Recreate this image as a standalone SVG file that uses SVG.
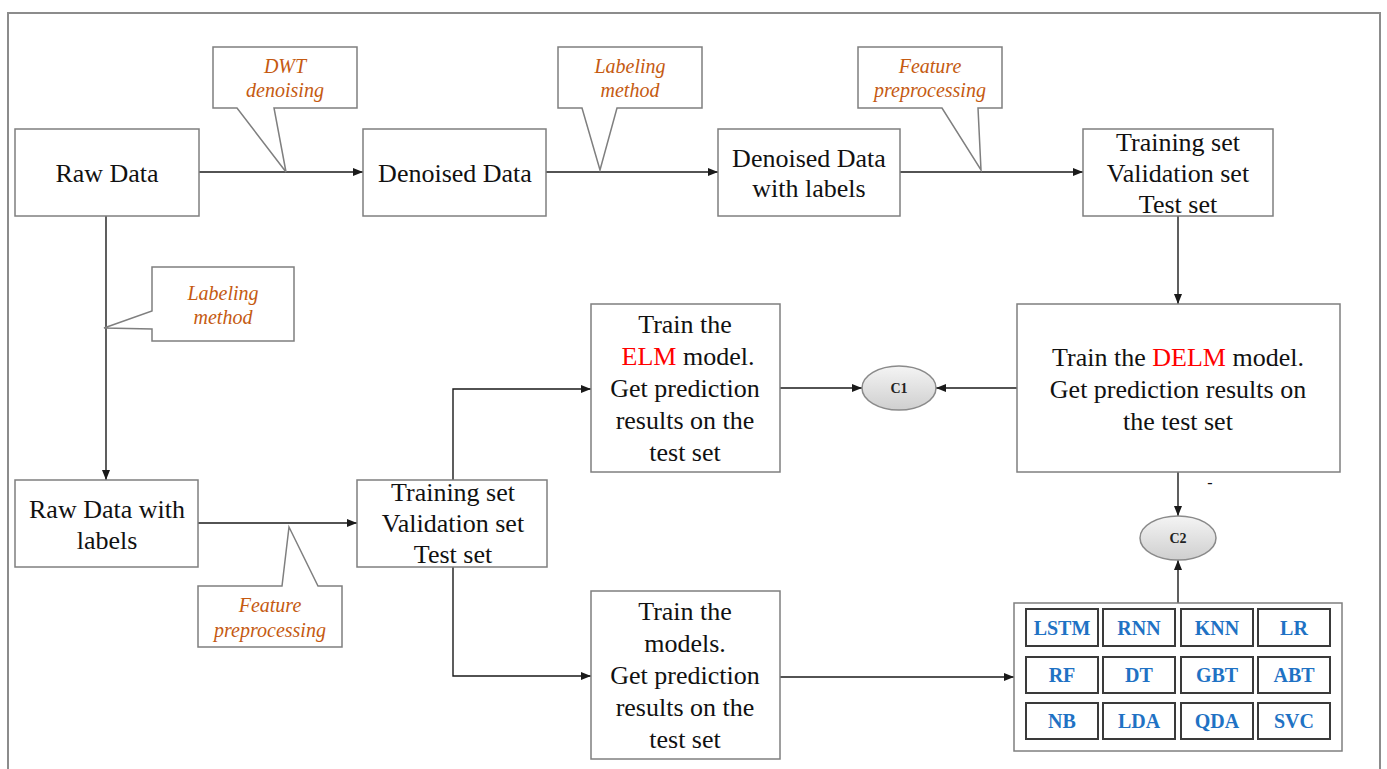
<svg xmlns="http://www.w3.org/2000/svg" width="1387" height="769" viewBox="0 0 1387 769">
  <style>
    .box { fill: #ffffff; stroke: #7f7f7f; stroke-width: 1.5; }
    .call { fill: #ffffff; stroke: #7f7f7f; stroke-width: 1.5; stroke-linejoin: miter; }
    .cell { fill: #ffffff; stroke: #3a3a3a; stroke-width: 2; }
    .conn { fill: none; stroke: #1a1a1a; stroke-width: 1.4; }
    .t { font-family: "Liberation Serif", "Times New Roman", serif; font-size: 26px; fill: #111111; text-anchor: middle; }
    .ct { font-family: "Liberation Serif", "Times New Roman", serif; font-size: 20px; font-style: italic; fill: #c55a11; text-anchor: middle; }
    .mt { font-family: "Liberation Serif", "Times New Roman", serif; font-size: 20px; font-weight: bold; fill: #1f72c4; text-anchor: middle; }
    .et { font-family: "Liberation Serif", "Times New Roman", serif; font-size: 14px; font-weight: bold; fill: #222222; text-anchor: middle; }
    .red { fill: #ff0000; }
  </style>
  <defs>
    <marker id="arrow" viewBox="0 0 10 8" markerWidth="10" markerHeight="8" refX="10" refY="4" orient="auto" markerUnits="userSpaceOnUse">
      <path d="M0,0 L10,4 L0,8 Z" fill="#1a1a1a"/>
    </marker>
    <linearGradient id="oval" x1="0" y1="0" x2="0" y2="1">
      <stop offset="0" stop-color="#f4f4f4"/>
      <stop offset="1" stop-color="#cfcfcf"/>
    </linearGradient>
  </defs>

  <!-- outer frame -->
  <rect x="8" y="13" width="1372" height="770" fill="#ffffff" stroke="#8c8c8c" stroke-width="2"/>

  <!-- connectors -->
  <g id="connectors">
    <line class="conn" x1="199" y1="172" x2="363" y2="172" marker-end="url(#arrow)"/>
    <line class="conn" x1="546" y1="172" x2="718" y2="172" marker-end="url(#arrow)"/>
    <line class="conn" x1="900" y1="172" x2="1083" y2="172" marker-end="url(#arrow)"/>
    <line class="conn" x1="1178" y1="216" x2="1178" y2="304" marker-end="url(#arrow)"/>
    <line class="conn" x1="106" y1="216" x2="106" y2="480" marker-end="url(#arrow)"/>
    <line class="conn" x1="198" y1="523" x2="357" y2="523" marker-end="url(#arrow)"/>
    <polyline class="conn" points="453,480 453,389 591,389" marker-end="url(#arrow)"/>
    <polyline class="conn" points="453,567 453,676 591,676" marker-end="url(#arrow)"/>
    <line class="conn" x1="780" y1="388" x2="862" y2="388" marker-end="url(#arrow)"/>
    <line class="conn" x1="1017" y1="388" x2="936" y2="388" marker-end="url(#arrow)"/>
    <line class="conn" x1="1178" y1="472" x2="1178" y2="516" marker-end="url(#arrow)"/>
    <line class="conn" x1="1178" y1="603" x2="1178" y2="560" marker-end="url(#arrow)"/>
    <line class="conn" x1="780" y1="677" x2="1014" y2="677" marker-end="url(#arrow)"/>
  </g>

  <!-- callouts -->
  <g id="callout-dwt">
    <path class="call" d="M213,47 H357 V108 H274 L286,172 L237,108 H213 Z"/>
    <text class="ct" x="285" y="73">DWT</text>
    <text class="ct" x="285" y="97">denoising</text>
  </g>
  <g id="callout-labeling-top">
    <path class="call" d="M558,47 H702 V108 H617 L600,170 L582,108 H558 Z"/>
    <text class="ct" x="630" y="73">Labeling</text>
    <text class="ct" x="630" y="97">method</text>
  </g>
  <g id="callout-feature-top">
    <path class="call" d="M858,47 H1002 V108 H978 L981,170 L942,108 H858 Z"/>
    <text class="ct" x="930" y="73">Feature</text>
    <text class="ct" x="930" y="97">preprocessing</text>
  </g>
  <g id="callout-labeling-left">
    <path class="call" d="M152,267 H294 V341 H152 V329 L104,328 L152,311 Z"/>
    <text class="ct" x="223" y="300">Labeling</text>
    <text class="ct" x="223" y="324">method</text>
  </g>
  <g id="callout-feature-bottom">
    <path class="call" d="M198,586 H282 L289,527 L318,586 H342 V647 H198 Z"/>
    <text class="ct" x="270" y="612">Feature</text>
    <text class="ct" x="270" y="637">preprocessing</text>
  </g>

  <!-- top row -->
  <g id="raw-data">
    <rect class="box" x="15" y="129" width="184" height="87"/>
    <text class="t" x="107" y="182">Raw Data</text>
  </g>
  <g id="denoised-data">
    <rect class="box" x="363" y="129" width="183" height="87"/>
    <text class="t" x="455" y="182">Denoised Data</text>
  </g>
  <g id="denoised-labels">
    <rect class="box" x="718" y="129" width="182" height="87"/>
    <text class="t" x="809" y="167">Denoised Data</text>
    <text class="t" x="809" y="197">with labels</text>
  </g>
  <g id="split-top">
    <rect class="box" x="1083" y="129" width="190" height="87"/>
    <text class="t" x="1178" y="151">Training set</text>
    <text class="t" x="1178" y="182">Validation set</text>
    <text class="t" x="1178" y="213">Test set</text>
  </g>

  <!-- DELM -->
  <g id="delm">
    <rect class="box" x="1017" y="304" width="323" height="168"/>
    <text class="t" x="1178" y="366">Train the <tspan class="red">DELM</tspan> model.</text>
    <text class="t" x="1178" y="398">Get prediction results on</text>
    <text class="t" x="1178" y="430">the test set</text>
    <text class="t" x="1210" y="488" style="font-size:16px">-</text>
  </g>

  <!-- comparison nodes -->
  <g id="c1">
    <ellipse cx="899" cy="388" rx="37" ry="22" fill="url(#oval)" stroke="#8a8a8a" stroke-width="1.5"/>
    <text class="et" x="899" y="393">C1</text>
  </g>
  <g id="c2">
    <ellipse cx="1178" cy="538" rx="38" ry="22" fill="url(#oval)" stroke="#8a8a8a" stroke-width="1.5"/>
    <text class="et" x="1178" y="543">C2</text>
  </g>

  <!-- ELM -->
  <g id="elm">
    <rect class="box" x="591" y="304" width="189" height="168"/>
    <text class="t" x="685" y="333">Train the</text>
    <text class="t" x="688" y="365"><tspan class="red">ELM</tspan> model.</text>
    <text class="t" x="685" y="397">Get prediction</text>
    <text class="t" x="685" y="429">results on the</text>
    <text class="t" x="685" y="461">test set</text>
  </g>

  <!-- left column -->
  <g id="raw-labels">
    <rect class="box" x="15" y="480" width="183" height="87"/>
    <text class="t" x="107" y="518">Raw Data with</text>
    <text class="t" x="107" y="549">labels</text>
  </g>
  <g id="split-bottom">
    <rect class="box" x="357" y="480" width="190" height="87"/>
    <text class="t" x="453" y="501">Training set</text>
    <text class="t" x="453" y="532">Validation set</text>
    <text class="t" x="453" y="563">Test set</text>
  </g>

  <!-- other models -->
  <g id="models">
    <rect class="box" x="591" y="591" width="189" height="168"/>
    <text class="t" x="685" y="620">Train the</text>
    <text class="t" x="685" y="652">models.</text>
    <text class="t" x="685" y="684">Get prediction</text>
    <text class="t" x="685" y="716">results on the</text>
    <text class="t" x="685" y="748">test set</text>
  </g>

  <g id="model-grid">
    <rect class="box" x="1014" y="603" width="328" height="148"/>
    <rect class="cell" x="1026" y="609" width="72" height="37"/>
    <rect class="cell" x="1103" y="609" width="72" height="37"/>
    <rect class="cell" x="1181" y="609" width="72" height="37"/>
    <rect class="cell" x="1258" y="609" width="72" height="37"/>
    <rect class="cell" x="1026" y="657" width="72" height="36"/>
    <rect class="cell" x="1103" y="657" width="72" height="36"/>
    <rect class="cell" x="1181" y="657" width="72" height="36"/>
    <rect class="cell" x="1258" y="657" width="72" height="36"/>
    <rect class="cell" x="1026" y="703" width="72" height="36"/>
    <rect class="cell" x="1103" y="703" width="72" height="36"/>
    <rect class="cell" x="1181" y="703" width="72" height="36"/>
    <rect class="cell" x="1258" y="703" width="72" height="36"/>
    <text class="mt" x="1062" y="635">LSTM</text>
    <text class="mt" x="1139" y="635">RNN</text>
    <text class="mt" x="1217" y="635">KNN</text>
    <text class="mt" x="1294" y="635">LR</text>
    <text class="mt" x="1062" y="682">RF</text>
    <text class="mt" x="1139" y="682">DT</text>
    <text class="mt" x="1217" y="682">GBT</text>
    <text class="mt" x="1294" y="682">ABT</text>
    <text class="mt" x="1062" y="728">NB</text>
    <text class="mt" x="1139" y="728">LDA</text>
    <text class="mt" x="1217" y="728">QDA</text>
    <text class="mt" x="1294" y="728">SVC</text>
  </g>
</svg>
